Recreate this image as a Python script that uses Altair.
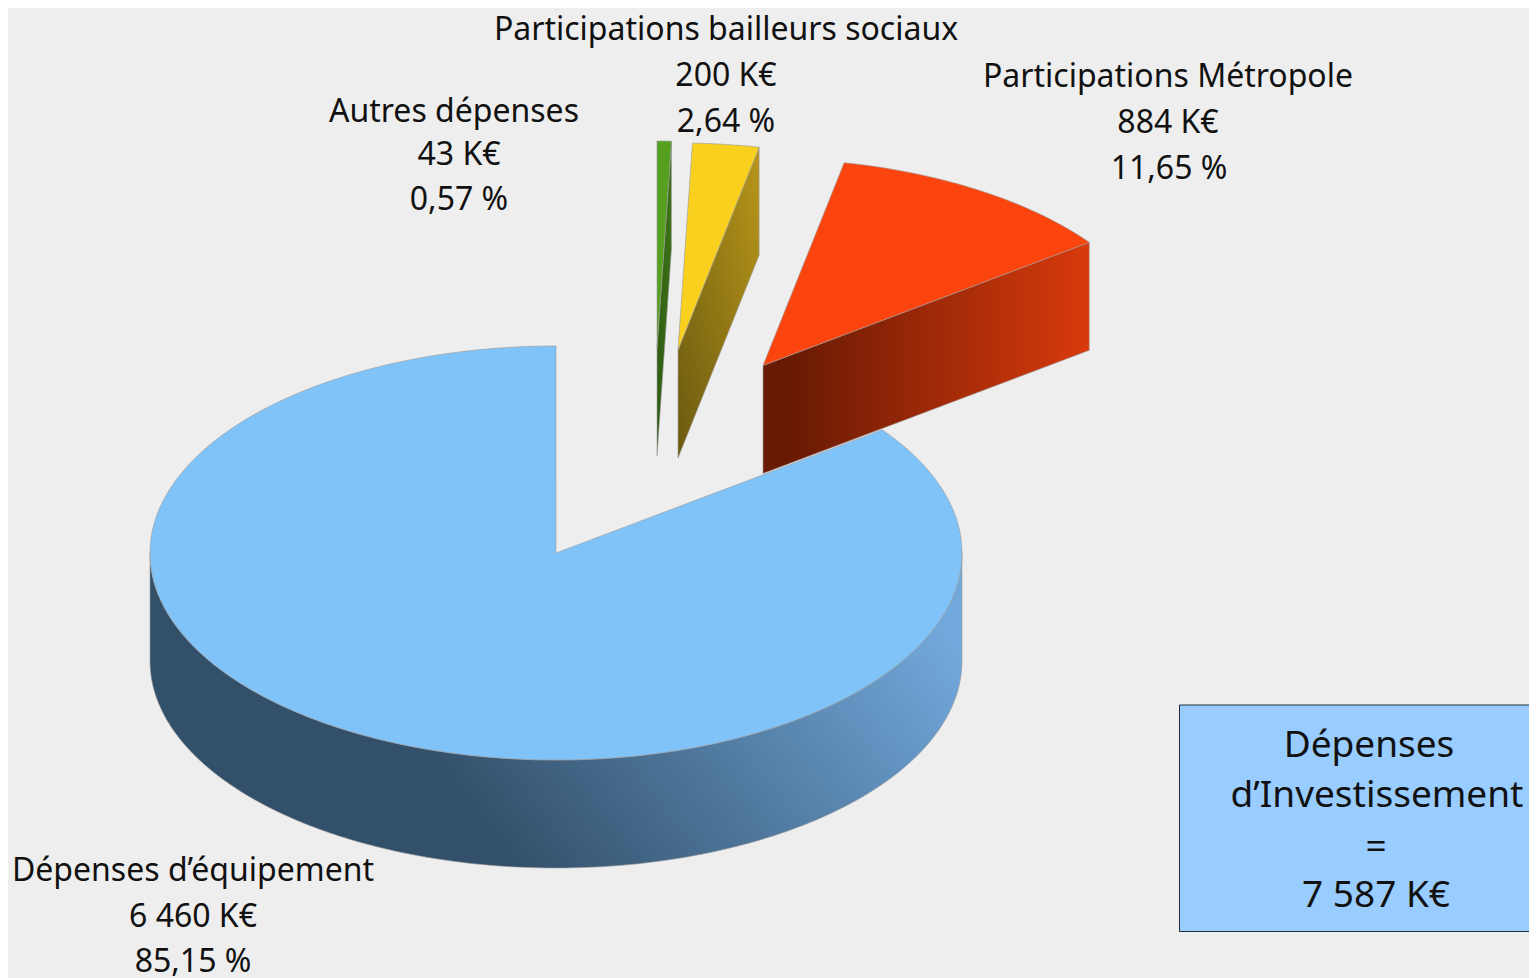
import math
import altair as alt
import pandas as pd

# Values of the pie (k euro), clockwise from 12 o'clock
slices = ["Autres dépenses", "Participations bailleurs sociaux", "Participations Métropole", "Dépenses d’équipement"]
values = [43, 200, 884, 6460]
centres_x = [657, 678, 763, 556]
centres_y = [348, 350, 365.5, 553]
top_colors = ["#55a11f", "#fad01e", "#fc440f", "#7fc3f8"]
wall_from = ["#2c5a10", "#6b5a10", "#681a04", "#33506a"]
wall_to = ["#3f7518", "#b8961a", "#d83a0c", "#72a9dc"]

label_text = ["Participations bailleurs sociaux", "200 K€", "2,64 %",
              "Participations Métropole", "884 K€", "11,65 %",
              "Autres dépenses", "43 K€", "0,57 %",
              "Dépenses d’équipement", "6 460 K€", "85,15 %"]
label_x = [726, 726, 726, 1168, 1168, 1169, 454, 459, 459, 193, 193, 193]
label_y = [30, 76, 122, 77, 123, 169, 112, 155, 200, 871, 917, 962]
box_text = ["Dépenses", "d’Investissement", "=", "7 587 K€"]
box_x = [1369, 1377, 1376, 1376]
box_y = [746, 796, 848, 896]

RX, RY, DEPTH = 406, 207, 108
BG = "#eeeeee"
FONT = "Noto Sans"

total = sum(values)
sx = alt.Scale(domain=[8, 1529], range=[0, 1521])
sy = alt.Scale(domain=[8, 978], range=[0, 970])


def rim(cx, cy, a):
    r = math.radians(a)
    return cx + RX * math.sin(r), cy - RY * math.cos(r)


def span(a0, a1, step=1.0):
    n = max(2, int(abs(a1 - a0) / step) + 1)
    return [a0 + (a1 - a0) * i / n for i in range(n + 1)]


def envelope(poly):
    """x-monotone polygon -> x, y, y2 rows for an area mark."""
    xs = set()
    for x, _ in poly:
        xs.update([x - 0.01, x + 0.01])
    lo, hi = min(p[0] for p in poly), max(p[0] for p in poly)
    rows = []
    for x in sorted(xs):
        if x < lo or x > hi:
            continue
        ys = []
        for (x0, y0), (x1, y1) in zip(poly, poly[1:] + poly[:1]):
            if min(x0, x1) <= x <= max(x0, x1) and x0 != x1:
                ys.append(y0 + (y1 - y0) * (x - x0) / (x1 - x0))
        if ys:
            rows.append({"x": x, "y": min(ys), "y2": max(ys)})
    return pd.DataFrame(rows)


def face(poly, fill):
    return alt.Chart(envelope(poly)).mark_area(
        color=fill, stroke="#9a9a9a", strokeWidth=0.6, interpolate="linear"
    ).encode(
        x=alt.X("x:Q", axis=None, scale=sx),
        y=alt.Y("y:Q", axis=None, scale=sy),
        y2="y2:Q",
    )


def grad(c0, c1, x1=0, y1=0, x2=1, y2=0, mid=None):
    stops = [alt.GradientStop(color=c0, offset=0)]
    if mid is not None:
        stops.append(alt.GradientStop(color=c0, offset=mid))
    stops.append(alt.GradientStop(color=c1, offset=1))
    return alt.Gradient(gradient="linear", stops=stops, x1=x1, y1=y1, x2=x2, y2=y2)


layers = []
angle = 0.0
bounds = []
for v in values:
    bounds.append((angle, angle + 360.0 * v / total))
    angle += 360.0 * v / total

# main slice first, then the exploded ones on top
for i in [3, 2, 1, 0]:
    a0, a1 = bounds[i]
    cx, cy = centres_x[i], centres_y[i]
    if i == 3:
        arc = [rim(cx, cy, a) for a in span(90, 270)]
        wall = arc + [(x, y + DEPTH) for x, y in reversed(arc)]
        layers.append(face(wall, grad(wall_from[i], wall_to[i], 0, 0.6, 1, 0.3, mid=0.3)))
    else:
        e = rim(cx, cy, a1)
        wall = [(cx, cy), e, (e[0], e[1] + DEPTH), (cx, cy + DEPTH)]
        if i == 2:
            fill = grad(wall_from[i], wall_to[i], 0, 0.5, 1, 0.5, mid=0.08)
        else:
            fill = grad(wall_from[i], wall_to[i], 0, 1, 1, 0)
        layers.append(face(wall, fill))
    top = [(cx, cy)] + [rim(cx, cy, a) for a in span(a0, a1)]
    layers.append(face(top, top_colors[i]))

box = alt.Chart(pd.DataFrame({"x": [1179.5], "x2": [1540], "y": [705], "y2": [931.5]})).mark_rect(
    fill="#99ccff", stroke="#1f2f40", strokeWidth=1, clip=True
).encode(x=alt.X("x:Q", axis=None, scale=sx), x2="x2:Q", y=alt.Y("y:Q", axis=None, scale=sy), y2="y2:Q")
layers.append(box)

lab = alt.Chart(pd.DataFrame({"t": label_text, "x": label_x, "y": label_y})).mark_text(
    font=FONT, fontSize=32, color="#111111", align="center", baseline="middle"
).encode(x=alt.X("x:Q", axis=None, scale=sx), y=alt.Y("y:Q", axis=None, scale=sy), text="t:N")
layers.append(lab)

btx = alt.Chart(pd.DataFrame({"t": box_text, "x": box_x, "y": box_y})).mark_text(
    font=FONT, fontSize=37, color="#111111", align="center", baseline="middle"
).encode(x=alt.X("x:Q", axis=None, scale=sx), y=alt.Y("y:Q", axis=None, scale=sy), text="t:N")
layers.append(btx)

chart = alt.layer(*layers).properties(
    width=1521, height=970, background=BG, padding=0,
    autosize=alt.AutoSizeParams(type="none"),
).configure_view(stroke=None)

chart.save("out.html", embed_options={"renderer": "svg", "actions": False})
